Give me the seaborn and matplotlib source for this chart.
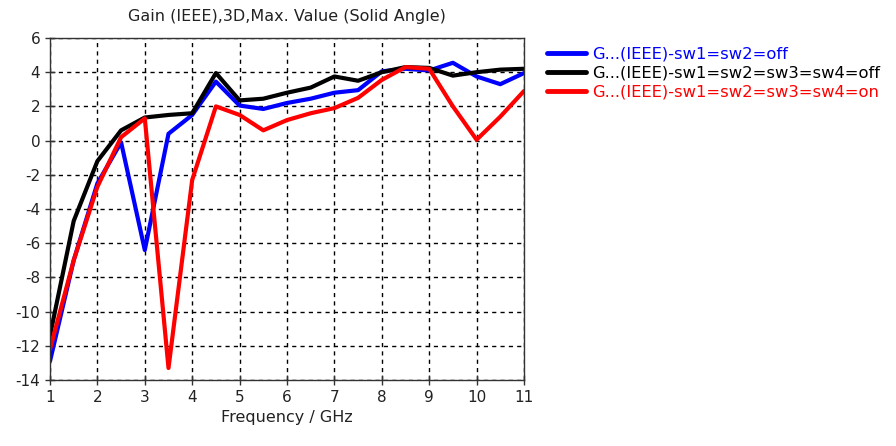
import numpy as np
import pandas as pd
import matplotlib
matplotlib.use("Agg")
import matplotlib.pyplot as plt
import seaborn as sns

freq = [1.0, 1.5, 2.0, 2.5, 3.0, 3.5, 4.0, 4.5, 5.0, 5.5, 6.0, 6.5, 7.0,
        7.5, 8.0, 8.5, 9.0, 9.5, 10.0, 10.5, 11.0]
gain_off2 = [-12.9, -7.0, -2.5, -0.1, -6.4, 0.4, 1.5, 3.45, 2.05, 1.85, 2.2,
             2.45, 2.8, 2.95, 4.05, 4.2, 4.1, 4.55, 3.75, 3.3, 3.95]
gain_off4 = [-11.4, -4.7, -1.2, 0.6, 1.35, 1.5, 1.6, 3.95, 2.35, 2.45, 2.8,
             3.1, 3.75, 3.5, 4.0, 4.3, 4.25, 3.8, 4.0, 4.15, 4.2]
gain_on4 = [-12.2, -7.0, -2.7, 0.2, 1.3, -13.3, -2.3, 2.0, 1.5, 0.6, 1.2,
            1.6, 1.9, 2.5, 3.55, 4.3, 4.2, 2.0, 0.05, 1.4, 2.9]
labels = ["G...(IEEE)-sw1=sw2=off",
          "G...(IEEE)-sw1=sw2=sw3=sw4=off",
          "G...(IEEE)-sw1=sw2=sw3=sw4=on"]
colors = ["#0000ff", "#000000", "#ff0000"]
x_ticks = list(range(1, 12))
y_ticks = list(range(-14, 7, 2))

df = pd.DataFrame({
    "Frequency": freq * 3,
    "Gain": gain_off2 + gain_off4 + gain_on4,
    "Series": [labels[0]] * len(freq) + [labels[1]] * len(freq) + [labels[2]] * len(freq),
})

sns.set_theme(style="white")
plt.rcParams["font.family"] = ["DejaVu Sans"]
plt.rcParams["axes.unicode_minus"] = False

fig = plt.figure(figsize=(8.96, 4.46), dpi=100)
ax = fig.add_axes([50 / 896, 1 - 380 / 446, 474 / 896, 342 / 446])

sns.lineplot(data=df, x="Frequency", y="Gain", hue="Series",
             palette=dict(zip(labels, colors)), hue_order=labels,
             linewidth=3.0, ax=ax, legend=False, sort=False)

ax.set_xlim(1, 11)
ax.set_ylim(-14, 6)
ax.set_xticks(x_ticks)
ax.set_yticks(y_ticks)
ax.grid(True, color="black", linestyle=(0, (3, 3)), linewidth=1.0)
ax.set_axisbelow(True)
for s in ax.spines.values():
    s.set_color("#333333")
    s.set_linewidth(1.0)
ax.tick_params(bottom=True, left=True, direction="inout", length=7, width=1,
               colors="#333333", labelsize=11, labelcolor="#222222")
ax.set_xlabel("Frequency / GHz", fontsize=11.5, color="#222222", labelpad=4)
ax.set_ylabel("")
ax.set_title("Gain (IEEE),3D,Max. Value (Solid Angle)", fontsize=11.5,
             color="#222222", pad=12)

handles = [plt.Line2D([], [], color=c, linewidth=3.5) for c in colors]
leg = fig.legend(handles, labels, loc="upper left",
                 bbox_to_anchor=(540 / 896, 1 - 40 / 446), frameon=False,
                 fontsize=11.8, handlelength=2.4, handletextpad=0.4,
                 labelspacing=0.25, borderaxespad=0)
for t, c in zip(leg.get_texts(), colors):
    t.set_color(c)

fig.savefig("out.png", dpi=100)
